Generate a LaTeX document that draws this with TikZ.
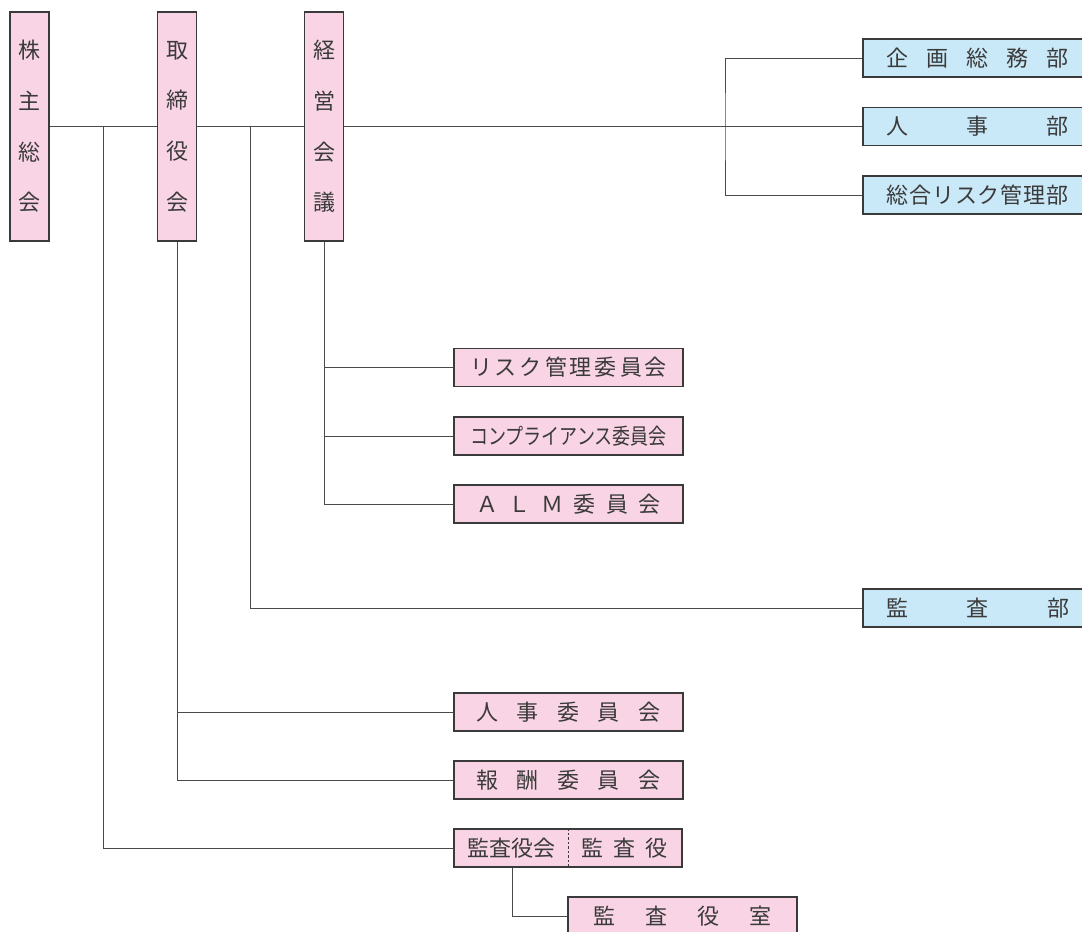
\documentclass[tikz,border=0pt]{standalone}
\usepackage{fontspec}
\newfontfamily\jp{Noto Sans CJK JP}
\definecolor{pinkf}{HTML}{F9D4E4}
\definecolor{bluef}{HTML}{C9E9F8}
\definecolor{edgec}{HTML}{3A3A3A}
\definecolor{wirec}{HTML}{4A4A4A}
\definecolor{ink}{HTML}{3A3A3A}
\newcommand\spr[2]{\makebox[#1pt][s]{#2}}
\begin{document}
\begin{tikzpicture}[x=1pt,y=-1pt,
  tall/.style={draw=edgec, line width=1.1pt, fill=pinkf, minimum width=39pt, minimum height=229pt, inner sep=0pt, align=center, font=\jp\fontsize{22}{50.7}\selectfont, text=ink},
  pbox/.style={draw=edgec, line width=1.1pt, fill=pinkf, minimum width=229pt, minimum height=38pt, inner sep=0pt, font=\jp\fontsize{22}{25}\selectfont, text=ink},
  bbox/.style={pbox, fill=bluef},
  wire/.style={draw=wirec, line width=1pt}]
\useasboundingbox (0,0) rectangle (1082,932);

% tall boxes
\node[tall] (kabu)  at (29.5,126.5) {株\\主\\総\\会};
\node[tall] (tori)  at (177,126.5)  {取\\締\\役\\会};
\node[tall] (keiei) at (324,126.5)  {経\\営\\会\\議};

% blue departments
\node[bbox] (kikaku)  at (977.5,58)    {\spr{182}{企\hfill 画\hfill 総\hfill 務\hfill 部}};
\node[bbox] (jinjibu) at (977.5,126.5) {\spr{182}{人\hfill 事\hfill 部}};
\node[bbox] (sogo)    at (977.5,195)   {\spr{182}{総\hfill 合\hfill リ\hfill ス\hfill ク\hfill 管\hfill 理\hfill 部}};
\node[bbox] (kansabu) at (977.5,608)   {\spr{183}{監\hfill 査\hfill 部}};

% committees
\node[pbox] (risk) at (568.5,367.5) {\spr{197}{リ\hfill ス\hfill ク\hfill 管\hfill 理\hfill 委\hfill 員\hfill 会}};
\node[pbox] (comp) at (568.5,436)   {\scalebox{0.82}[1]{コンプライアンス委員会}};
\node[pbox] (alm)  at (568.5,504)   {\spr{184}{Ａ\hfill Ｌ\hfill Ｍ\hfill 委\hfill 員\hfill 会}};
\node[pbox] (jinjiiin) at (568.5,712) {\spr{184}{人\hfill 事\hfill 委\hfill 員\hfill 会}};
\node[pbox] (hoshu)    at (568.5,780) {\spr{184}{報\hfill 酬\hfill 委\hfill 員\hfill 会}};
\node[pbox, minimum width=228pt] (kansakai) at (568,848)
  {\makebox[114pt]{監査役会}\makebox[114pt]{\spr{86}{監\hfill 査\hfill 役}}};
\draw[draw=edgec, line width=0.9pt, dash pattern=on 2.5pt off 2pt] (kansakai.north) -- (kansakai.south);
\node[pbox] (shitsu) at (682.5,916) {\spr{178}{監\hfill 査\hfill 役\hfill 室}};

% junction points
\coordinate (j1) at (725,126.5);
\coordinate (j2) at (103,126.5);
\coordinate (j3) at (250,126.5);

% connectors
\draw[wire] (kabu.east) -- (tori.west);
\draw[wire] (tori.east) -- (keiei.west);
\draw[wire] (keiei.east) -- (jinjibu.west);
\draw[wire] (kikaku.west) -| (j1) |- (sogo.west);
\draw[wire] (j2) |- (kansakai.west);
\draw[wire] (j3) |- (kansabu.west);
\draw[wire] (keiei.south) |- (alm.west);
\draw[wire] (keiei.south |- risk.west) -- (risk.west);
\draw[wire] (keiei.south |- comp.west) -- (comp.west);
\draw[wire] (tori.south) |- (hoshu.west);
\draw[wire] (tori.south |- jinjiiin.west) -- (jinjiiin.west);
\draw[wire] ([xshift=-56pt]kansakai.south) |- (shitsu.west);
\end{tikzpicture}
\end{document}
